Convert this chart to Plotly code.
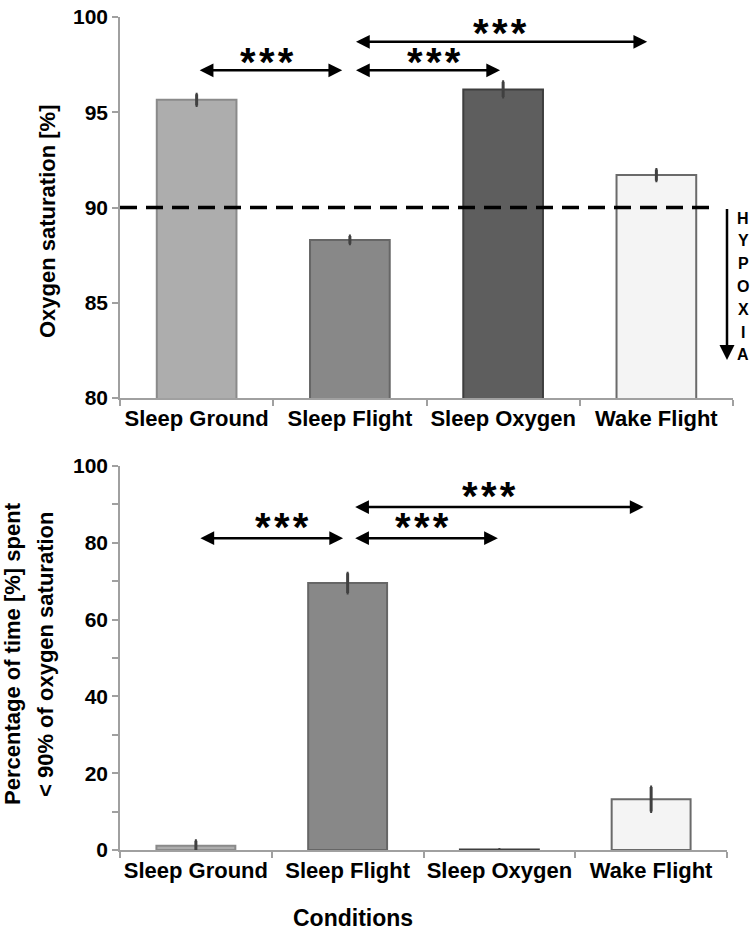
import plotly.graph_objects as go

# ---------------- data ----------------
categories = ["Sleep Ground", "Sleep Flight", "Sleep Oxygen", "Wake Flight"]
sat_mean = [95.65, 88.3, 96.2, 91.7]
sat_err = [0.3, 0.2, 0.4, 0.3]
hyp_mean = [1.1, 69.5, 0.1, 13.2]
hyp_err = [1.3, 2.6, 0.0, 3.2]
sat_ticks = [80, 85, 90, 95, 100]
hyp_ticks = [0, 20, 40, 60, 80, 100]
hypoxia_threshold = 90
hypoxia_letters = ["H", "Y", "P", "O", "X", "I", "A"]

# ---------------- style ----------------
fill_colors = ["#adadad", "#888888", "#5e5e5e", "#f4f4f4"]
edge_colors = ["#8a8a8a", "#666666", "#3e3e3e", "#6a6a6a"]
FONT = "Liberation Sans, Arial, sans-serif"
W, H = 750, 935


def px(x):
    return x / W


def py(y):
    return 1 - y / H


fig = go.Figure()

fig.add_trace(go.Bar(
    x=categories, y=sat_mean,
    marker=dict(color=fill_colors, line=dict(color=edge_colors, width=2)),
    error_y=dict(type="data", array=sat_err, color="#404040", thickness=3, width=1),
    width=0.52, xaxis="x", yaxis="y", showlegend=False,
))
fig.add_trace(go.Bar(
    x=categories, y=hyp_mean,
    marker=dict(color=fill_colors, line=dict(color=edge_colors, width=2)),
    error_y=dict(type="data", array=hyp_err, color="#404040", thickness=3, width=1),
    width=0.52, xaxis="x2", yaxis="y2", showlegend=False,
))

axis_common = dict(
    showline=True, linecolor="#a0a0a0", linewidth=1.5,
    ticks="outside", tickcolor="#a0a0a0", ticklen=6, tickwidth=1.5,
    showgrid=False, zeroline=False, automargin=False, ticklabeloverflow="allow",
)
xfont = dict(family=FONT, size=22, color="black", weight="bold")
yfont = dict(family=FONT, size=21, color="black", weight="bold")

fig.update_layout(
    width=W, height=H,
    margin=dict(l=0, r=0, t=0, b=0, autoexpand=False),
    paper_bgcolor="white", plot_bgcolor="white",
    font=dict(family=FONT, color="black"),
    xaxis=dict(domain=[px(120), px(733)], anchor="y", type="category", tickangle=0,
               range=[-0.5, 3.5], tickson="boundaries", tickfont=xfont, **axis_common),
    yaxis=dict(domain=[py(398), py(17)], anchor="x", range=[80, 100],
               tickvals=sat_ticks, tickfont=yfont, **axis_common),
    xaxis2=dict(domain=[px(120), px(727)], anchor="y2", type="category", tickangle=0,
                range=[-0.5, 3.5], tickson="boundaries", tickfont=xfont, **axis_common),
    yaxis2=dict(domain=[py(850), py(466)], anchor="x2", range=[0, 100],
                tickvals=hyp_ticks, tickfont=yfont,
                minor=dict(ticks="outside", dtick=10, ticklen=6, tickcolor="#a0a0a0", tickwidth=1.5),
                **axis_common),
)

# dashed hypoxia threshold
fig.add_shape(type="line", xref="x", yref="y", x0=-0.5, x1=3.39,
              y0=hypoxia_threshold, y1=hypoxia_threshold,
              line=dict(color="black", width=3.5, dash="17px,9px"))

ann = []
# hypoxia arrow
ann.append(dict(xref="paper", yref="y", axref="pixel", ayref="y", x=px(727), y=82.0, ax=0,
                ay=hypoxia_threshold, text="", showarrow=True, arrowhead=2, arrowsize=1.2,
                arrowwidth=2.5, arrowcolor="black", standoff=0, startstandoff=0))
for i, ch in enumerate(hypoxia_letters):
    ann.append(dict(xref="paper", yref="paper", x=px(743), y=py(218 + i * 22.8),
                    text=ch, showarrow=False, xanchor="center", yanchor="middle",
                    borderpad=0, borderwidth=0,
                    font=dict(family=FONT, size=16, color="black", weight="bold")))

STARS = "*\u200a*\u200a*"


def sig(xa, ya, x0, x1, y, sx, sy):
    ann.append(dict(xref=xa, yref=ya, axref=xa, ayref=ya, x=x1, y=y, ax=x0, ay=y, text="",
                    showarrow=True, arrowhead=2, arrowside="end+start", arrowsize=1.1,
                    arrowwidth=2.5, arrowcolor="black", standoff=0, startstandoff=0))
    ann.append(dict(xref=xa, yref=ya, x=sx, y=sy, text="<b>" + STARS + "</b>", showarrow=False,
                    xanchor="center", yanchor="middle",
                    font=dict(family=FONT, size=40, color="black")))


# top chart
sig("x", "y", 0.01, 0.95, 97.2, 0.46, 97.65)
sig("x", "y", 1.03, 1.98, 97.2, 1.55, 97.65)
sig("x", "y", 1.03, 2.94, 98.7, 1.98, 99.15)
# bottom chart
sig("x2", "y2", 0.02, 0.97, 81.2, 0.57, 84.1)
sig("x2", "y2", 1.04, 1.99, 81.2, 1.49, 84.1)
sig("x2", "y2", 1.04, 2.95, 89.3, 1.93, 92.2)

# axis titles
ann.append(dict(xref="paper", yref="paper", x=px(47), y=py(222), text="Oxygen saturation [%]",
                textangle=-90, showarrow=False, xanchor="center", yanchor="middle",
                font=dict(family=FONT, size=22, color="black", weight="bold")))
ann.append(dict(xref="paper", yref="paper", x=px(12), y=py(654), text="Percentage of time [%] spent",
                textangle=-90, showarrow=False, xanchor="center", yanchor="middle",
                font=dict(family=FONT, size=22, color="black", weight="bold")))
ann.append(dict(xref="paper", yref="paper", x=px(45), y=py(655), text="< 90% of oxygen saturation",
                textangle=-90, showarrow=False, xanchor="center", yanchor="middle",
                font=dict(family=FONT, size=22, color="black", weight="bold")))
ann.append(dict(xref="paper", yref="paper", x=px(353), y=py(918), text="Conditions",
                showarrow=False, xanchor="center", yanchor="middle",
                font=dict(family=FONT, size=23, color="black", weight="bold")))

fig.update_layout(annotations=ann)
fig.write_html("out.html", config={"displayModeBar": False},
               post_script="document.body.style.margin='0';document.body.style.overflow='hidden';")
